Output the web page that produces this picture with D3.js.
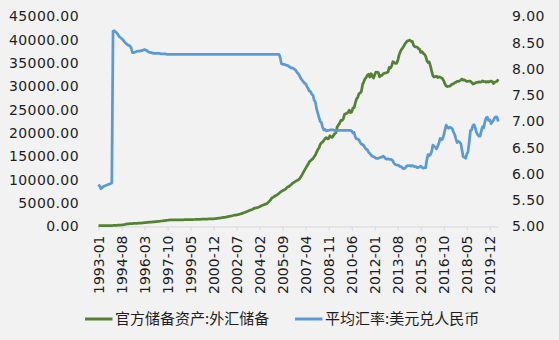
<!DOCTYPE html>
<html lang="zh">

<head>
    <meta charset="UTF-8">
    <title>外汇储备与汇率</title>
    <script src="https://d3js.org/d3.v7.min.js"></script>
    <style>
        body { margin: 0; background: #f2f2f2; }
        svg text { font-family: "DejaVu Sans", sans-serif; fill: #1e1e1e; }
        .legend text { font-family: "Noto Sans CJK SC", sans-serif; }
    </style>
</head>

<body>
    <div id="chart"></div>

    <script>
        // 官方储备资产:外汇储备 (亿美元), monthly from 1993-01
        const reserves = [
            194, 192, 196, 196, 195, 193, 195, 199, 203, 206, 210, 212,
            217, 228, 240, 253, 270, 290, 312, 337, 368, 405, 452, 516,
            550, 577, 600, 615, 630, 650, 667, 680, 695, 705, 720, 736,
            760, 790, 820, 840, 870, 900, 920, 940, 960, 987, 1010, 1050,
            1070, 1090, 1110, 1140, 1180, 1210, 1250, 1280, 1310, 1340, 1370, 1399,
            1400, 1402, 1405, 1405, 1406, 1406, 1407, 1407, 1409, 1410, 1420, 1450,
            1460, 1465, 1470, 1475, 1480, 1485, 1490, 1500, 1510, 1520, 1535, 1547,
            1550, 1555, 1565, 1570, 1580, 1590, 1600, 1610, 1620, 1630, 1640, 1656,
            1680, 1700, 1750, 1780, 1800, 1860, 1900, 1950, 1960, 2000, 2060, 2122,
            2190, 2240, 2290, 2350, 2420, 2420, 2500, 2550, 2600, 2680, 2760, 2864,
            2950, 3030, 3160, 3250, 3350, 3470, 3560, 3640, 3840, 3930, 3970, 4033,
            4150, 4230, 4400, 4500, 4600, 4700, 4800, 4900, 5150, 5420, 5700, 6099,
            6236, 6423, 6591, 6700, 6910, 7110, 7327, 7533, 7690, 7800, 7940, 8189,
            8452, 8537, 8751, 8950, 9250, 9411, 9545, 9720, 9879, 9996, 10250, 10663,
            11047, 11575, 12020, 12466, 12926, 13326, 13851, 14086, 14336, 14545, 14970, 15282,
            15898, 16471, 16822, 17566, 17969, 18088, 18452, 18841, 19056, 18797, 18847, 19460,
            19135, 19124, 19537, 19890, 20089, 21316, 21746, 22109, 22726, 22728, 23000, 23992,
            24153, 24250, 24470, 24905, 24395, 24543, 25382, 25480, 26483, 27355, 27680, 28473,
            28600, 29000, 30447, 31000, 31660, 31975, 32453, 32625, 32017, 32738, 32209, 31811,
            32536, 33100, 33050, 32990, 32061, 32400, 32400, 32730, 32850, 32870, 32980, 33116,
            34100, 33950, 34426, 35345, 35148, 34967, 34966, 35530, 36627, 37366, 37894, 38213,
            38666, 39137, 39480, 39788, 39839, 39932, 39662, 39688, 38877, 38529, 38473, 38430,
            38134, 38015, 37301, 37481, 37111, 36938, 36513, 35574, 35141, 35255, 34383, 33304,
            32309, 32023, 32126, 32197, 31917, 32052, 32011, 31851, 31664, 31207, 30516, 30105,
            29982, 30051, 30091, 30295, 30536, 30568, 30807, 30915, 31085, 31092, 31193, 31399,
            31615, 31345, 31428, 31249, 31106, 31121, 31179, 31097, 30870, 30531, 30617, 30727,
            30879, 30902, 30988, 30950, 31010, 31192, 31037, 31072, 30924, 31052, 30956, 31079,
            31155, 31067, 30606, 30915, 31017, 31123, 31544
        ];

        // 平均汇率:美元兑人民币, monthly from 1993-01
        const usdcny = [
            5.80, 5.77, 5.72, 5.74, 5.76, 5.77, 5.78, 5.79, 5.80, 5.81, 5.82, 5.83,
            8.72, 8.73, 8.71, 8.69, 8.66, 8.62, 8.60, 8.58, 8.56, 8.53, 8.50, 8.48,
            8.46, 8.45, 8.44, 8.40, 8.31, 8.31, 8.32, 8.33, 8.34, 8.34, 8.34, 8.35,
            8.35, 8.36, 8.37, 8.36, 8.35, 8.33, 8.32, 8.31, 8.31, 8.30, 8.30, 8.30,
            8.30, 8.30, 8.30, 8.29, 8.29, 8.29, 8.29, 8.29, 8.28, 8.28, 8.28, 8.28,
            8.28, 8.28, 8.28, 8.28, 8.28, 8.28, 8.28, 8.28, 8.28, 8.28, 8.28, 8.28,
            8.28, 8.28, 8.28, 8.28, 8.28, 8.28, 8.28, 8.28, 8.28, 8.28, 8.28, 8.28,
            8.28, 8.28, 8.28, 8.28, 8.28, 8.28, 8.28, 8.28, 8.28, 8.28, 8.28, 8.28,
            8.28, 8.28, 8.28, 8.28, 8.28, 8.28, 8.28, 8.28, 8.28, 8.28, 8.28, 8.28,
            8.28, 8.28, 8.28, 8.28, 8.28, 8.28, 8.28, 8.28, 8.28, 8.28, 8.28, 8.28,
            8.28, 8.28, 8.28, 8.28, 8.28, 8.28, 8.28, 8.28, 8.28, 8.28, 8.28, 8.28,
            8.28, 8.28, 8.28, 8.28, 8.28, 8.28, 8.28, 8.28, 8.28, 8.28, 8.28, 8.28,
            8.28, 8.28, 8.28, 8.28, 8.28, 8.28, 8.22, 8.10, 8.09, 8.09, 8.08, 8.07,
            8.07, 8.05, 8.04, 8.02, 8.02, 8.01, 7.99, 7.97, 7.93, 7.91, 7.87, 7.82,
            7.79, 7.76, 7.73, 7.72, 7.67, 7.63, 7.58, 7.57, 7.52, 7.50, 7.41, 7.37,
            7.24, 7.16, 7.08, 7.00, 6.98, 6.89, 6.84, 6.85, 6.82, 6.83, 6.83, 6.84,
            6.84, 6.84, 6.84, 6.83, 6.82, 6.83, 6.83, 6.83, 6.83, 6.83, 6.83, 6.83,
            6.83, 6.83, 6.83, 6.83, 6.83, 6.82, 6.78, 6.79, 6.70, 6.67, 6.66, 6.65,
            6.60, 6.57, 6.56, 6.54, 6.50, 6.47, 6.46, 6.41, 6.39, 6.36, 6.34, 6.33,
            6.32, 6.30, 6.30, 6.30, 6.31, 6.32, 6.32, 6.34, 6.32, 6.29, 6.28, 6.29,
            6.28, 6.28, 6.27, 6.25, 6.20, 6.18, 6.17, 6.17, 6.16, 6.14, 6.14, 6.11,
            6.10, 6.11, 6.14, 6.16, 6.16, 6.16, 6.15, 6.16, 6.15, 6.14, 6.14, 6.12,
            6.13, 6.13, 6.15, 6.13, 6.11, 6.12, 6.12, 6.27, 6.37, 6.35, 6.37, 6.43,
            6.55, 6.53, 6.51, 6.48, 6.53, 6.59, 6.68, 6.65, 6.67, 6.74, 6.84, 6.93,
            6.89, 6.87, 6.89, 6.88, 6.86, 6.80, 6.75, 6.67, 6.60, 6.62, 6.61, 6.58,
            6.46, 6.33, 6.32, 6.30, 6.38, 6.42, 6.61, 6.83, 6.84, 6.92, 6.94, 6.88,
            6.79, 6.75, 6.72, 6.72, 6.82, 6.90, 6.88, 7.00, 7.07, 7.08, 7.02, 7.03,
            6.96, 6.99, 7.02, 7.07, 7.09, 7.08, 7.00
        ];

        // month labels 1993-01 ... (one per data point)
        const months = reserves.map((_, i) => {
            const y = 1993 + Math.floor(i / 12);
            const m = (i % 12) + 1;
            return y + "-" + (m < 10 ? "0" + m : m);
        });
        const labelStep = 19;

        const leftTicks = [0, 5000, 10000, 15000, 20000, 25000, 30000, 35000, 40000, 45000];
        const rightTicks = [5, 5.5, 6, 6.5, 7, 7.5, 8, 8.5, 9];

        const seriesNames = ["官方储备资产:外汇储备", "平均汇率:美元兑人民币"];
        const colors = ["#548235", "#5b9bd5"];

        const width = 559, height = 340;

        const svg = d3.select("#chart")
            .append("svg")
            .attr("width", width)
            .attr("height", height);

        svg.append("rect")
            .attr("width", width)
            .attr("height", height)
            .attr("fill", "#f2f2f2");

        const x = d3.scaleLinear()
            .domain([0, months.length - 1])
            .range([98.5, 498.3]);

        const yLeft = d3.scaleLinear().domain([0, 45000]).range([226.5, 16.5]);
        const yRight = d3.scaleLinear().domain([5, 9]).range([226.5, 16.5]);

        // x axis
        const tickIdx = d3.range(0, months.length, labelStep);
        const xAxis = svg.append("g")
            .attr("transform", "translate(0,226.5)")
            .call(d3.axisBottom(x)
                .tickValues(tickIdx)
                .tickFormat(i => months[i])
                .tickSize(4)
                .tickSizeOuter(0));
        xAxis.select(".domain").attr("stroke", "#d9d9d9");
        xAxis.selectAll(".tick line").attr("stroke", "#d9d9d9");
        xAxis.selectAll("text")
            .attr("transform", "rotate(-90)")
            .attr("x", -9)
            .attr("y", 0)
            .attr("dy", "0.36em")
            .style("text-anchor", "end")
            .style("font-size", "14px")
            .style("font-family", "DejaVu Sans");

        // left axis
        const leftAxis = svg.append("g")
            .attr("transform", "translate(79,0)")
            .call(d3.axisLeft(yLeft).tickValues(leftTicks).tickFormat(d3.format(".2f"))
                .tickSize(0).tickPadding(0));
        leftAxis.select(".domain").remove();
        leftAxis.selectAll("text")
            .style("font-size", "14px")
            .style("letter-spacing", "0.4px")
            .style("font-family", "DejaVu Sans");

        // right axis
        const rightAxis = svg.append("g")
            .attr("transform", "translate(512,0)")
            .call(d3.axisRight(yRight).tickValues(rightTicks).tickFormat(d3.format(".2f"))
                .tickSize(0).tickPadding(0));
        rightAxis.select(".domain").remove();
        rightAxis.selectAll("text")
            .style("font-size", "14px")
            .style("letter-spacing", "0.4px")
            .style("font-family", "DejaVu Sans");

        // lines
        const lineLeft = d3.line().x((d, i) => x(i)).y(d => yLeft(d));
        const lineRight = d3.line().x((d, i) => x(i)).y(d => yRight(d));

        svg.append("path")
            .datum(reserves)
            .attr("d", lineLeft)
            .attr("fill", "none")
            .attr("stroke", colors[0])
            .attr("stroke-width", 2.75)
            .attr("stroke-linejoin", "round");

        svg.append("path")
            .datum(usdcny)
            .attr("d", lineRight)
            .attr("fill", "none")
            .attr("stroke", colors[1])
            .attr("stroke-width", 2.75)
            .attr("stroke-linejoin", "round");

        // legend
        const legendX = [85, 295];
        const legend = svg.append("g").attr("class", "legend");
        seriesNames.forEach((name, i) => {
            legend.append("line")
                .attr("x1", legendX[i]).attr("x2", legendX[i] + 27.5)
                .attr("y1", 319).attr("y2", 319)
                .attr("stroke", colors[i])
                .attr("stroke-width", 3);
            legend.append("text")
                .attr("x", legendX[i] + 30)
                .attr("y", 319)
                .attr("dy", "0.35em")
                .style("font-size", "15px")
                .text(name);
        });
    </script>
</body>

</html>
